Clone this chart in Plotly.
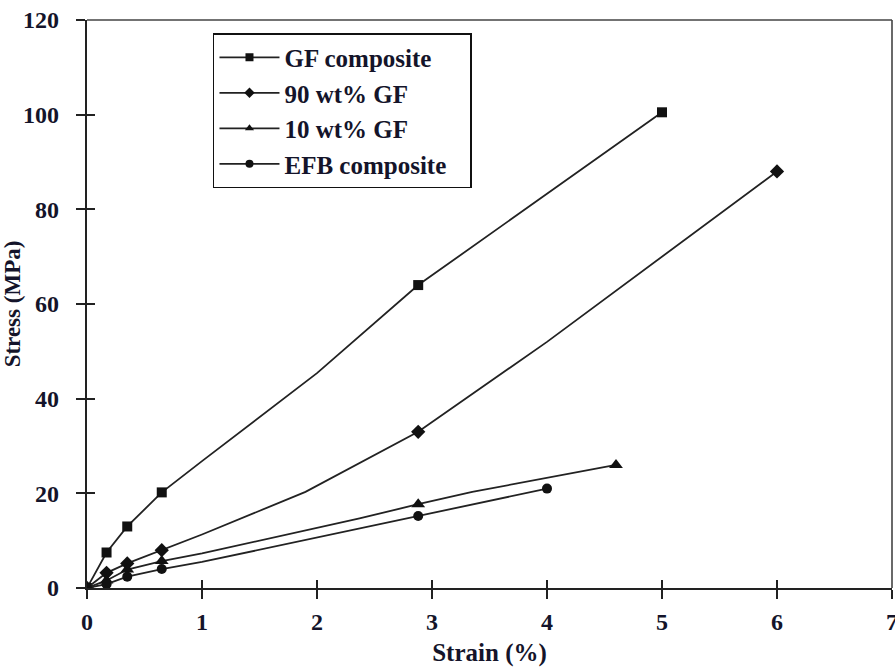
import plotly.graph_objects as go

# Measured points (markers)
gf_x = [0, 0.17, 0.35, 0.65, 2.88, 5.0]
gf_y = [0, 7.5, 13.0, 20.2, 64.0, 100.5]
gf90_x = [0, 0.17, 0.35, 0.65, 2.88, 6.0]
gf90_y = [0, 3.2, 5.2, 8.0, 33.0, 88.0]
gf10_x = [0, 0.17, 0.35, 0.65, 2.88, 4.6]
gf10_y = [0, 1.6, 3.9, 5.7, 17.7, 26.0]
efb_x = [0, 0.17, 0.35, 0.65, 2.88, 4.0]
efb_y = [0, 0.8, 2.4, 4.0, 15.2, 21.0]

# Curve traces (lines, including bends between markers)
gf_cx = [0, 0.17, 0.35, 0.65, 1.0, 2.0, 2.88, 4.0, 5.0]
gf_cy = [0, 7.5, 13.0, 20.2, 26.8, 45.4, 64.0, 83.3, 100.5]
gf90_cx = [0, 0.17, 0.35, 0.65, 1.0, 1.9, 2.88, 4.0, 6.0]
gf90_cy = [0, 3.2, 5.2, 8.0, 11.3, 20.3, 33.0, 52.0, 88.0]
gf10_cx = [0, 0.17, 0.35, 0.65, 1.0, 2.37, 2.88, 3.35, 4.6]
gf10_cy = [0, 1.6, 3.9, 5.7, 7.3, 14.7, 17.7, 20.3, 26.0]
efb_cx = [0, 0.17, 0.35, 0.65, 1.0, 2.37, 2.88, 4.0]
efb_cy = [0, 0.8, 2.4, 4.0, 5.5, 12.6, 15.2, 21.0]

names = ["GF composite", "90 wt% GF", "10 wt% GF", "EFB composite"]

series = [
    (names[0], gf_x, gf_y, gf_cx, gf_cy, "square", 10),
    (names[1], gf90_x, gf90_y, gf90_cx, gf90_cy, "diamond", 11),
    (names[2], gf10_x, gf10_y, gf10_cx, gf10_cy, "triangle-up", 12),
    (names[3], efb_x, efb_y, efb_cx, efb_cy, "circle", 10),
]

x_ticks = [0, 1, 2, 3, 4, 5, 6, 7]
y_ticks = [0, 20, 40, 60, 80, 100, 120]

LINE = "#222222"
MARK = "#111111"
TXT = "#14142a"
FONT = "Liberation Serif"
NBSP = "\u00a0"

fig = go.Figure()
for name, mx, my, cx, cy, sym, sz in series:
    fig.add_trace(go.Scatter(x=cx, y=cy, mode="lines", line=dict(color=LINE, width=1.8),
                             showlegend=False, hoverinfo="skip"))
    fig.add_trace(go.Scatter(x=mx, y=my, mode="markers",
                             marker=dict(symbol=sym, size=sz, color=MARK),
                             showlegend=False))
    fig.add_trace(go.Scatter(x=[None], y=[None], mode="lines+markers", name=name + NBSP * 3,
                             line=dict(color=LINE, width=1.8),
                             marker=dict(symbol=sym, size=8, color=MARK)))

tickfont = dict(family=FONT, size=24, color=TXT, weight="bold")
fig.update_layout(
    width=895, height=672,
    margin=dict(l=87, r=3, t=20, b=84, autoexpand=False),
    paper_bgcolor="white", plot_bgcolor="white",
    showlegend=True,
    legend=dict(x=0.1565, y=0.977, xanchor="left", yanchor="top",
                bordercolor="#111111", borderwidth=1.5, bgcolor="white",
                font=dict(family=FONT, size=25, color=TXT, weight="bold"),
                itemwidth=60, tracegroupgap=0),
    xaxis=dict(range=[0, 7], tickvals=x_ticks, ticks="outside", ticklen=9, tickwidth=1.8,
               tickcolor="#222", showline=True, linecolor="#222", linewidth=2.2,
               showgrid=False, zeroline=False, tickfont=tickfont, ticklabelstandoff=2,
               ticklabeloverflow="allow", automargin=False,
               title=dict(text="Strain (%)", font=dict(family=FONT, size=25, color=TXT, weight="bold"),
                          standoff=10)),
    yaxis=dict(range=[0, 120], tickvals=y_ticks, ticks="outside", ticklen=9, tickwidth=1.8,
               tickcolor="#222", showline=True, linecolor="#222", linewidth=2.2,
               showgrid=False, zeroline=False, tickfont=tickfont, ticklabelstandoff=12,
               automargin=False,
               title=dict(text="Stress (MPa)", font=dict(family=FONT, size=23, color=TXT, weight="bold"),
                          standoff=0)),
    xaxis2=dict(range=[0, 7], tickvals=x_ticks, ticks="inside", ticklen=8, tickwidth=1.8,
                tickcolor="#222", overlaying="x", anchor="y", side="bottom", automargin=False,
                showticklabels=False, showgrid=False, zeroline=False, showline=False),
    yaxis2=dict(range=[0, 120], tickvals=y_ticks, ticks="inside", ticklen=8, tickwidth=1.8,
                tickcolor="#222", overlaying="y", anchor="x", side="left", automargin=False,
                showticklabels=False, showgrid=False, zeroline=False, showline=False),
    shapes=[
        dict(type="line", xref="paper", yref="paper", x0=0, x1=1, y0=1, y1=1,
             line=dict(color="#444", width=1.6)),
        dict(type="line", xref="paper", yref="paper", x0=1, x1=1, y0=0, y1=1,
             line=dict(color="#444", width=1.6)),
    ],
)
# empty trace to activate the overlay axes (inside halves of crossing ticks)
fig.add_trace(go.Scatter(x=[None], y=[None], xaxis="x2", yaxis="y2", showlegend=False,
                         hoverinfo="skip"))

fig.write_html("out.html")
